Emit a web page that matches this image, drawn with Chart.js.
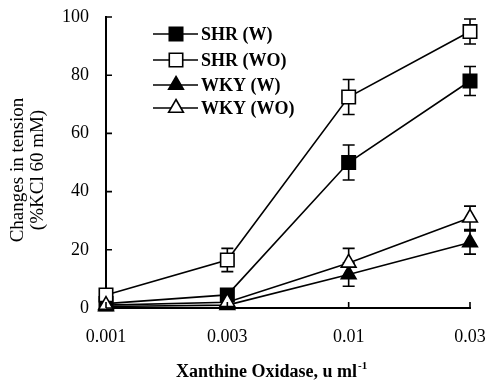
<!DOCTYPE html>
<html>
<head>
<meta charset="utf-8">
<script src="https://cdn.jsdelivr.net/npm/chart.js@4"></script>
<style>
html,body{margin:0;padding:0;background:#fff;}
#wrap{width:489px;height:384px;}
</style>
</head>
<body>
<div id="wrap"><canvas id="c" width="489" height="384"></canvas></div>
<script>
const categories = ['0.001', '0.003', '0.01', '0.03'];
const seriesNames = ['SHR (W)', 'SHR (WO)', 'WKY (W)', 'WKY (WO)'];
const shrW = [1.5, 4.5, 50, 78];
const shrWErr = [1, 1, 6, 5];
const shrWO = [4.5, 16.5, 72.5, 95];
const shrWOErr = [1, 4, 6, 4.3];
const wkyW = [0.5, 1, 11.5, 22.5];
const wkyWErr = [0.5, 0.5, 4, 4];
const wkyWO = [1, 2, 15.5, 31];
const wkyWOErr = [0.5, 1, 5, 4];
const yTicks = [0, 20, 40, 60, 80, 100];
const xTitle = 'Xanthine Oxidase, u ml';
const xTitleSup = '-1';
const yTitle = ['Changes in tension', '(%KCl 60 mM)'];

const FONT = '"Liberation Serif", "Times New Roman", serif';
const errs = [shrWErr, shrWOErr, wkyWErr, wkyWOErr];
const styles = [
  {pointStyle: 'rect', bg: '#000', r: 9.5},
  {pointStyle: 'rect', bg: '#fff', r: 9.5},
  {pointStyle: 'triangle', bg: '#000', r: 8.5},
  {pointStyle: 'triangle', bg: '#fff', r: 8.5}
];
const values = [shrW, shrWO, wkyW, wkyWO];

const datasets = values.map((v, i) => ({
  label: seriesNames[i],
  data: v,
  order: 4 - i,
  borderColor: '#000',
  borderWidth: 1.6,
  backgroundColor: styles[i].bg,
  pointStyle: styles[i].pointStyle,
  pointRadius: styles[i].r,
  pointHoverRadius: styles[i].r,
  pointBackgroundColor: styles[i].bg,
  pointBorderColor: '#000',
  pointBorderWidth: 1.6,
  tension: 0,
  fill: false,
  clip: false
}));

function zeroPad(s) { s.paddingTop = 0; s.paddingBottom = 0; s.paddingLeft = 0; s.paddingRight = 0; }

const extras = {
  id: 'extras',
  beforeDatasetsDraw(chart) {
    const ctx = chart.ctx;
    const xs = chart.scales.x, ys = chart.scales.y;
    ctx.save();
    ctx.strokeStyle = '#000';
    ctx.lineWidth = 1.6;
    values.forEach((v, i) => {
      v.forEach((val, j) => {
        const e = errs[i][j];
        const x = xs.getPixelForValue(j);
        const yt = ys.getPixelForValue(val + e);
        const yb = ys.getPixelForValue(val - e);
        ctx.beginPath();
        ctx.moveTo(x, yt); ctx.lineTo(x, yb);
        ctx.moveTo(x - 6, yt); ctx.lineTo(x + 6, yt);
        ctx.moveTo(x - 6, yb); ctx.lineTo(x + 6, yb);
        ctx.stroke();
      });
    });
    ctx.restore();
  },
  afterDatasetsDraw(chart) {
    const ctx = chart.ctx;
    const xs = chart.scales.x, ys = chart.scales.y;
    const area = chart.chartArea;
    ctx.save();
    ctx.strokeStyle = '#000';
    ctx.lineWidth = 1.6;
    // inward ticks
    ctx.beginPath();
    yTicks.forEach(t => {
      const y = ys.getPixelForValue(t);
      ctx.moveTo(area.left, y); ctx.lineTo(area.left + 6, y);
    });
    categories.forEach((c, j) => {
      const x = xs.getPixelForValue(j);
      ctx.moveTo(x, area.bottom); ctx.lineTo(x, area.bottom - 6);
    });
    ctx.stroke();
    // legend
    const rows = [34, 60, 85, 108];
    seriesNames.forEach((name, i) => {
      const y = rows[i];
      ctx.beginPath();
      ctx.lineWidth = 1.6;
      ctx.moveTo(153, y); ctx.lineTo(198, y);
      ctx.stroke();
      ctx.fillStyle = styles[i].bg;
      ctx.strokeStyle = '#000';
      Chart.helpers.drawPoint(ctx, {pointStyle: styles[i].pointStyle, radius: styles[i].r, borderWidth: 1.6, rotation: 0}, 176, y);
      ctx.fillStyle = '#000';
      ctx.font = 'bold 18px ' + FONT;
      ctx.textBaseline = 'middle';
      ctx.textAlign = 'left';
      ctx.fillText(name, 201, y + 1);
    });
    // x title
    ctx.fillStyle = '#000';
    ctx.textBaseline = 'alphabetic';
    ctx.textAlign = 'left';
    ctx.font = 'bold 18px ' + FONT;
    ctx.fillText(xTitle, 176, 377);
    const w = ctx.measureText(xTitle).width;
    ctx.font = 'bold 11px ' + FONT;
    ctx.fillText(xTitleSup, 176 + w + 1, 369);
    // y title
    ctx.save();
    ctx.translate(0, 170);
    ctx.rotate(-Math.PI / 2);
    ctx.font = '19px ' + FONT;
    ctx.textAlign = 'center';
    ctx.textBaseline = 'middle';
    ctx.fillText(yTitle[0], 0, 18);
    ctx.fillText(yTitle[1], 0, 38);
    ctx.restore();
    ctx.restore();
  }
};

new Chart(document.getElementById('c'), {
  type: 'line',
  data: {labels: categories, datasets: datasets},
  options: {
    responsive: false,
    animation: false,
    devicePixelRatio: 1,
    layout: {autoPadding: false, padding: {left: 0, right: 19, top: 17, bottom: 0}},
    plugins: {legend: {display: false}, tooltip: {enabled: false}},
    scales: {
      x: {
        type: 'category',
        offset: false,
        grid: {display: false, drawTicks: false},
        border: {display: true, color: '#000', width: 2},
        ticks: {color: '#000', font: {family: FONT, size: 18}, padding: 18, maxRotation: 0, autoSkip: false},
        afterFit(s) { s.height = 76; zeroPad(s); }
      },
      y: {
        min: 0, max: 100,
        grid: {display: false, drawTicks: false},
        border: {display: true, color: '#000', width: 2},
        ticks: {color: '#000', font: {family: FONT, size: 18}, padding: 17, stepSize: 20},
        title: {display: false},
        afterFit(s) { s.width = 106; zeroPad(s); }
      }
    }
  },
  plugins: [extras]
});
</script>
</body>
</html>
